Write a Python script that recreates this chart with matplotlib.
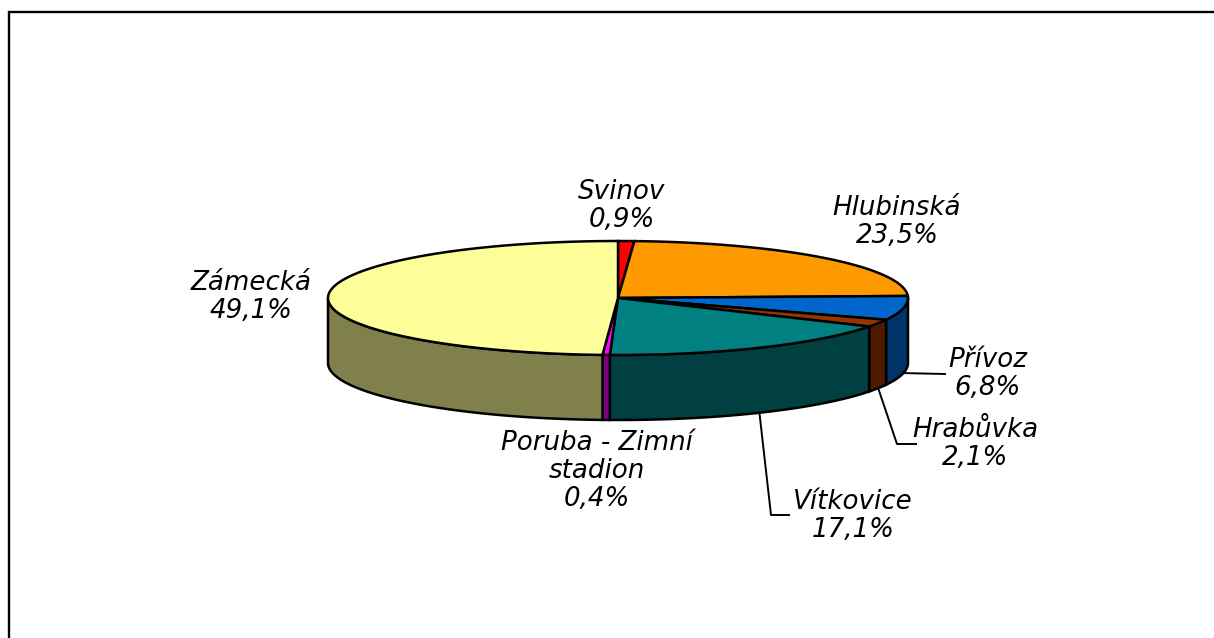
import numpy as np
import matplotlib
matplotlib.use('Agg')
import matplotlib.pyplot as plt
from matplotlib.patches import Polygon

# Data
names = ['Svinov', 'Hlubinská', 'Přívoz', 'Hrabůvka', 'Vítkovice', 'Poruba - Zimní\nstadion', 'Zámecká']
values = [0.9, 23.5, 6.8, 2.1, 17.1, 0.4, 49.1]
value_labels = ['0,9%', '23,5%', '6,8%', '2,1%', '17,1%', '0,4%', '49,1%']
top_colors = ['#FF0000', '#FF9900', '#0066CC', '#993300', '#008080', '#FF00FF', '#FFFF99']
side_colors = ['#800000', '#804D00', '#003366', '#4D1A00', '#004040', '#800080', '#80804D']

# label centres in pixels, leader elbows where the label sits away from the pie
label_pos = [(622, 206), (897, 222), (988, 374), (975, 444), (853, 516), (597, 471), (251, 297)]
leaders = {2: [(945, 374)], 3: [(897, 444), (916, 444)], 4: [(771, 515), (789, 515)]}

# Pie geometry in pixels
cx, cy = 618, 298
rx, ry = 290, 57
depth = 65


def rim(theta, drop=0):
    return np.column_stack([cx + rx * np.sin(theta), cy - ry * np.cos(theta) + drop])


fig = plt.figure(figsize=(12.14, 6.38), dpi=100)
ax = fig.add_axes([0, 0, 1, 1])
ax.set_xlim(0, 1214)
ax.set_ylim(638, 0)
ax.axis('off')

# chart frame, only top and left fall inside the picture
ax.plot([9, 9, 1214], [638, 12, 12], color='black', lw=1.7, solid_joinstyle='miter')

edges = np.radians(np.cumsum([0] + values) * 360 / sum(values))

# side wall, visible only on the front half
for i in range(len(values)):
    a, b = max(edges[i], np.pi / 2), min(edges[i + 1], 3 * np.pi / 2)
    if a >= b:
        continue
    t = np.linspace(a, b, 80)
    pts = np.vstack([rim(t), rim(t[::-1], depth)])
    ax.add_patch(Polygon(pts, closed=True, facecolor=side_colors[i], edgecolor='black', lw=1.8))

# top face
for i in range(len(values)):
    t = np.linspace(edges[i], edges[i + 1], 120)
    pts = np.vstack([[cx, cy], rim(t)])
    ax.add_patch(Polygon(pts, closed=True, facecolor=top_colors[i], edgecolor='black', lw=1.8))

# leader lines start on the lower rim at the middle of the slice
for i, elbow in leaders.items():
    mid = (edges[i] + edges[i + 1]) / 2
    start = rim(np.array([mid]), depth)
    line = np.vstack([start, elbow])
    ax.plot(line[:, 0], line[:, 1], color='black', lw=1.4)

for name, val, (x, y) in zip(names, value_labels, label_pos):
    ax.text(x, y, name + '\n' + val, ha='center', va='center', fontsize=18.8,
            family='DejaVu Sans', style='italic', linespacing=1.1, color='black')

fig.savefig('out.png', dpi=100)
